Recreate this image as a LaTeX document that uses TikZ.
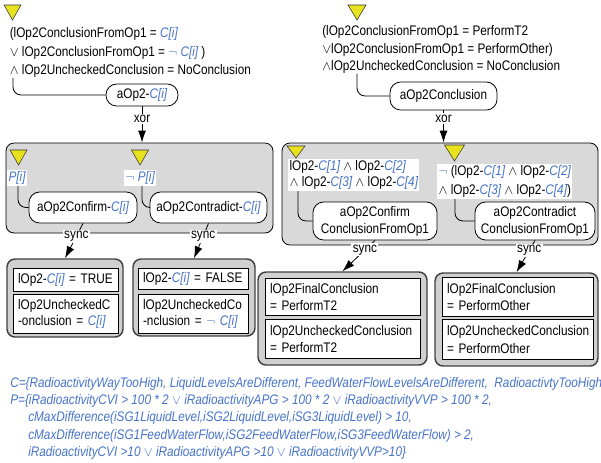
\documentclass[tikz,border=0pt]{standalone}
\usepackage{fontspec}
\setmainfont[FakeStretch=0.85]{Liberation Sans}
\usetikzlibrary{arrows.meta,fit}
\definecolor{cblue}{RGB}{70,115,200}
\definecolor{tyellow}{RGB}{232,226,30}
\definecolor{gfill}{RGB}{217,217,217}
\definecolor{ofill}{RGB}{208,208,208}
\newcommand\fs{\fontsize{10.4pt}{12.5pt}\selectfont}
\newcommand\cb[1]{\textcolor{cblue}{\itshape #1}}
\newcommand\Ci{\cb{C[i]}}
\newcommand\NN{\textcolor{cblue}{$\neg$}}
\newcommand\AND{$\wedge$}
\newcommand\OR{$\vee$}
\begin{document}
\begin{tikzpicture}[x=0.75pt,y=-0.75pt,font=\fs,
  rnode/.style={draw, fill=white, rounded corners=8pt, align=center, inner sep=1pt, line width=0.6pt},
  gbox/.style={draw, fill=gfill, rounded corners=6pt, line width=0.6pt, inner sep=0pt},
  obox/.style={draw=black!75, fill=ofill, rounded corners=6pt, line width=1.1pt, inner sep=0pt},
  ibox/.style={draw, fill=white, line width=0.6pt, inner xsep=3.5pt, inner ysep=0pt, align=left, anchor=north west},
  tblock/.style={inner sep=0pt, align=left, anchor=west},
  lbl/.style={fill=white, inner sep=1pt},
  arr/.style={-{Latex[length=9pt,width=6pt]}, line width=0.6pt},
  conn/.style={line width=0.6pt, rounded corners=6pt},
  trig/.style={fill=tyellow, draw=black!80, line width=0.4pt}]
\useasboundingbox (0,0) rectangle (601,462);
\coordinate (v13) at (13,0);
\coordinate (v357) at (357,0);
\coordinate (v18) at (18,0);
\coordinate (v142) at (142,0);
\coordinate (v298) at (298,0);
\coordinate (v455) at (455,0);

% ---------- top left
\filldraw[trig] (4,5) -- (21,5) -- (12.5,20) -- cycle;
\node[tblock] (condL) at (9.5,52.5) {(lOp2ConclusionFromOp1 = \Ci\\[1.4pt]\OR{} lOp2ConclusionFromOp1 = \NN{} \Ci{} )\\[1.4pt]\AND{} lOp2UncheckedConclusion = NoConclusion};
\node[rnode, minimum width=54pt, minimum height=16.5pt] (nL) at (142,95) {aOp2-\Ci};

% ---------- top right
\filldraw[trig] (348,5) -- (366,5) -- (357,20) -- cycle;
\node[tblock] (condR) at (322,49.5) {(lOp2ConclusionFromOp1 = PerformT2\\[0.6pt]\OR lOp2ConclusionFromOp1 = PerformOther)\\[0.6pt]\AND lOp2UncheckedConclusion = NoConclusion};
\node[rnode, minimum width=80.25pt, minimum height=21pt] (nR) at (443.5,96) {aOp2Conclusion};

% ---------- gray box 1
\node[gbox, fit={(6,143) (273,233)}] (G1) {};
\filldraw[trig] (10,150) -- (27,150) -- (18.5,165) -- cycle;
\filldraw[trig] (131.5,150) -- (148.5,150) -- (140,165) -- cycle;
\node[lbl, anchor=west] (pL) at (7,178) {\cb{P[i]}};
\node[lbl, anchor=west] (pR) at (124,178) {\NN{} \cb{P[i]}};
\node[rnode, minimum width=81pt, minimum height=23.25pt] (nC1) at (83,207.5) {aOp2Confirm-\Ci};
\node[rnode, minimum width=87.75pt, minimum height=23.25pt] (nD1) at (208.5,207.5) {aOp2Contradict-\Ci};

% ---------- gray box 2
\node[gbox, fit={(282,143) (598,245)}] (G2) {};
\filldraw[trig] (287,146) -- (305,146) -- (296,158) -- cycle;
\filldraw[trig] (444.5,145) -- (464.5,145) -- (454.5,161) -- cycle;
\node[lbl, align=left, anchor=west] (tb1) at (288,175) {lOp2-\cb{C[1]} \AND{} lOp2-\cb{C[2]}\\[-0.5pt]\AND{} lOp2-\cb{C[3]} \AND{} lOp2-\cb{C[4]}};
\node[lbl, align=left, anchor=west] (tb2) at (437,181.5) {\NN{} (lOp2-\cb{C[1]} \AND{} lOp2-\cb{C[2]}\\[1.75pt]\AND{} lOp2-\cb{C[3]} \AND{} lOp2-\cb{C[4]})};
\node[rnode, minimum width=93pt, minimum height=28.5pt] (nC2) at (375,221) {aOp2Confirm\\[0.25pt]ConclusionFromOp1};
\node[rnode, minimum width=90pt, minimum height=28.5pt] (nD2) at (535,221) {aOp2Contradict\\[0.25pt]ConclusionFromOp1};

% ---------- outcome boxes
\node[obox, fit={(7,259) (123,337)}] (O1) {};
\node[ibox, text width=71.75pt, minimum height=17.25pt] (O1a) at (13,268) {lOp2-\Ci{} = TRUE};
\node[ibox, text width=71.75pt, minimum height=29.25pt] (O1b) at (13,294) {lOp2UncheckedC\\[-0.5pt]-onclusion = \Ci};
\node[obox, fit={(133,259) (255,336)}] (O2) {};
\node[ibox, text width=75.5pt, minimum height=15.75pt] (O2a) at (138,268) {lOp2-\Ci{} = FALSE};
\node[ibox, text width=75.5pt, minimum height=29.25pt] (O2b) at (138,294) {lOp2UncheckedCo\\[-0.5pt]-nclusion = \NN{} \Ci};
\node[obox, fit={(258,272) (427,365)}] (O3) {};
\node[ibox, text width=109.25pt, minimum height=27.75pt] (O3a) at (265,278) {lOp2FinalConclusion\\[0.5pt]= PerformT2};
\node[ibox, text width=109.25pt, minimum height=29.25pt] (O3b) at (265,319) {lOp2UncheckedConclusion\\[0.5pt]= PerformT2};
\node[obox, fit={(435,273) (598,366)}] (O4) {};
\node[ibox, text width=106.25pt, minimum height=29.25pt] (O4a) at (442,277) {lOp2FinalConclusion\\[0.5pt]= PerformOther};
\node[ibox, text width=106.25pt, minimum height=30pt] (O4b) at (442,319) {lOp2UncheckedConclusion\\[0.5pt]= PerformOther};

% ---------- connectors
\draw[conn] (v13 |- condL.south) |- (nL.west);
\draw[conn] (v357 |- condR.south) |- (nR.west);
\draw[conn] (v18 |- pL.south) |- (nC1.west);
\draw[conn] (v142 |- pR.south) |- (nD1.west);
\draw[conn] (v298 |- tb1.south) |- (nC2.west);
\draw[conn] (v455 |- tb2.south) |- (nD2.west);

\draw[arr] (nL.south) -- node[lbl, pos=0.35] {xor} (nL.south |- G1.north);
\draw[arr] (nR.south) -- node[lbl, pos=0.25] {xor} (nR.south |- G2.north);
\draw[arr] (nC1.south) -- node[lbl, pos=0.37] {sync} (O1.north);
\draw[arr] (nD1.south) -- node[lbl, pos=0.37] {sync} (O2.north);
\draw[arr] (nC2.south) -- node[lbl, pos=0.31] {sync} (O3.north);
\draw[arr] (nD2.south) -- node[lbl, pos=0.31] {sync} (O4.north);

% ---------- definitions
\node[anchor=north west, align=left, inner sep=0pt, text=cblue, font=\fs\itshape] (defs) at (10,377)
 {C=\{RadioactivityWayTooHigh, LiquidLevelsAreDifferent, FeedWaterFlowLevelsAreDifferent,\ \ RadioactivtyTooHigh\}\\[0.5pt]
  P=\{iRadioactivityCVI > 100 * 2 $\vee$ iRadioactivityAPG > 100 * 2 $\vee$ iRadioactivityVVP > 100 * 2,\\[0.5pt]
  \hspace*{13.5pt}cMaxDifference(iSG1LiquidLevel,iSG2LiquidLevel,iSG3LiquidLevel) > 10,\\[0.5pt]
  \hspace*{13.5pt}cMaxDifference(iSG1FeedWaterFlow,iSG2FeedWaterFlow,iSG3FeedWaterFlow) > 2,\\[0.5pt]
  \hspace*{13.5pt}iRadioactivityCVI >10 $\vee$ iRadioactivityAPG >10 $\vee$ iRadioactivityVVP>10\}};
\end{tikzpicture}
\end{document}
